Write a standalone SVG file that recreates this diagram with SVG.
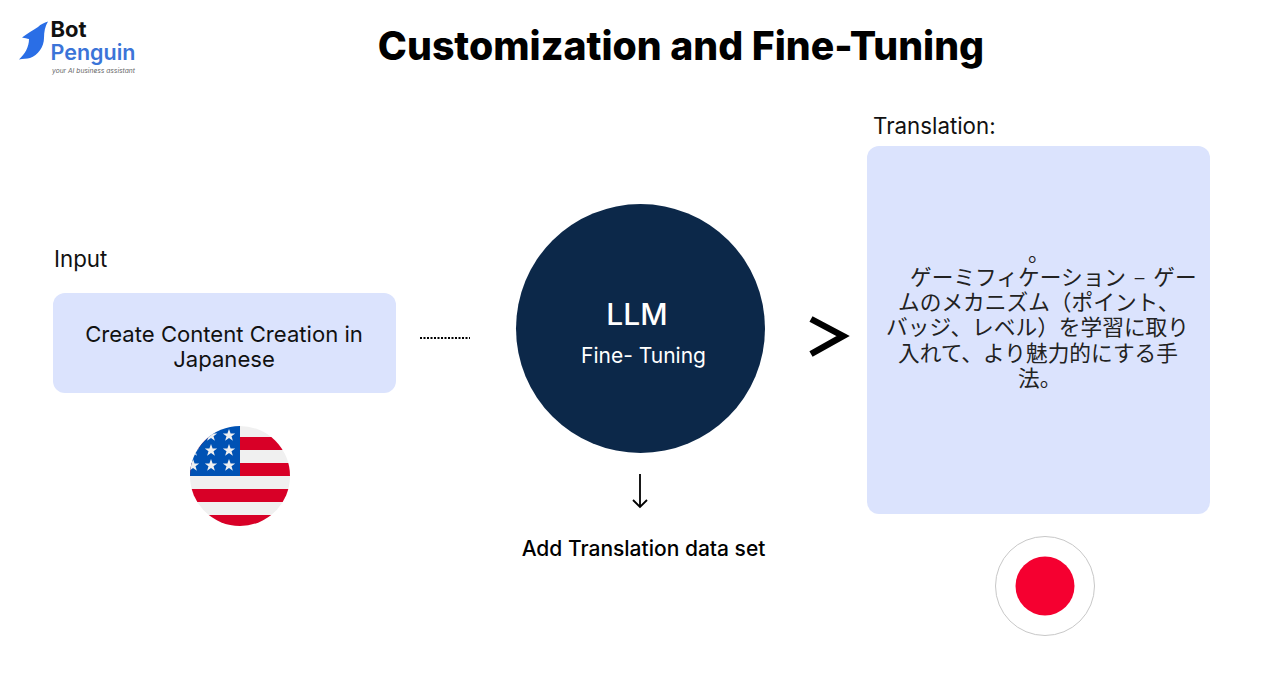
<svg xmlns="http://www.w3.org/2000/svg" width="1280" height="686" viewBox="0 0 1280 686">
<style>
text{font-family:"Inter","Noto Sans CJK JP",sans-serif;fill:#111}
.box{fill:#dbe3fd}
.l{font-size:22.300px}
.m{font-size:22.100px;text-anchor:middle}
.jp{font-family:"Noto Sans CJK JP",sans-serif;font-size:21.700px;fill:#222}
.conn{fill:none;stroke:#000}
</style>
<rect width="1280" height="686" fill="#fff"/>
<g id="logo">
<path d="M48 21.500C44 23 41 24 38 27C33 30 27 34 22 37.500C25 38 27 38.500 29 39C29 47 25 54 19 59.500C23 58.500 27 59 30 58C38 55 44 47 44 38C44 32 45 26 48 21.500Z" fill="#2a6ee6"/>
<text x="50.500" y="37" font-size="22" font-weight="700" style="fill:#111">Bot</text>
<text x="50.500" y="60" font-size="21.500" font-weight="600" style="fill:#3b74d8">Penguin</text>
<text x="52" y="73" font-size="6.700" font-style="italic" style="fill:#666">your AI business assistant</text>
</g>
<text id="title" x="681" y="59.500" font-size="39.200" font-weight="800" text-anchor="middle" style="fill:#000">Customization and Fine-Tuning</text>
<g id="input">
<text x="54" y="267" class="l">Input</text>
<rect class="box" x="53" y="293" width="343" height="100" rx="12"/>
<text x="224" y="342" class="m">Create Content Creation in</text>
<text x="224" y="367" class="m">Japanese</text>
</g>
<g id="us-flag">
<clipPath id="c1"><circle cx="240" cy="476" r="50"/></clipPath>
<g clip-path="url(#c1)">
<rect x="190" y="426" width="100" height="100" fill="#f0f0f0"/>
<rect x="190" y="437" width="100" height="13" fill="#d80027"/>
<rect x="190" y="463" width="100" height="13" fill="#d80027"/>
<rect x="190" y="489" width="100" height="13" fill="#d80027"/>
<rect x="190" y="515" width="100" height="13" fill="#d80027"/>
<rect x="190" y="426" width="50" height="50" fill="#0052b4"/>
<g fill="#f0f0f0">
<path id="s" d="M229 429l1.600 4.400 4.600 .1-3.700 2.800 1.400 4.500-3.900-2.700-3.900 2.700 1.400-4.500-3.700-2.800 4.600-.1z"/>
<use href="#s" y="15"/><use href="#s" y="30"/>
<use href="#s" x="-18" y="15"/><use href="#s" x="-18" y="30"/>
<use href="#s" x="-18"/>
<use href="#s" x="-36" y="30"/><use href="#s" x="-36" y="15"/>
</g>
</g>
</g>
<g id="connectors">
<line class="conn" x1="420" y1="338" x2="470" y2="338" stroke-width="2" stroke-dasharray="2 1.500"/>
<path class="conn" d="M640 474V507M633 500L640 507L647 500" stroke-width="1.800"/>
<path class="conn" d="M811 319L843 336L811 354" stroke-width="6.500"/>
</g>
<g id="llm">
<circle cx="640.500" cy="328.500" r="124.500" fill="#0c2849"/>
<text x="637" y="325" font-size="30" font-weight="500" text-anchor="middle" style="fill:#fff">LLM</text>
<text x="643.500" y="363" font-size="21" text-anchor="middle" style="fill:#fff">Fine- Tuning</text>
</g>
<text id="dataset" x="643.500" y="556" font-size="21" font-weight="500" text-anchor="middle" style="fill:#000">Add Translation data set</text>
<g id="translation">
<text x="873" y="134" class="l">Translation:</text>
<rect class="box" x="867" y="146" width="343" height="368" rx="12"/>
<text class="jp"><tspan x="1028" y="261">。</tspan><tspan x="910" y="285" word-spacing="3">ゲーミフィケーション – ゲー</tspan><tspan x="898" y="310">ムのメカニズム（ポイント、</tspan><tspan x="886" y="335">バッジ、レベル）を学習に取り</tspan><tspan x="898" y="361">入れて、より魅力的にする手</tspan><tspan x="1018" y="386">法。</tspan></text>
</g>
<g id="jp-flag">
<circle cx="1045" cy="586" r="49.500" fill="#fff" stroke="#c8c8c8"/>
<circle cx="1045" cy="586" r="29.500" fill="#f50030"/>
</g>
</svg>
